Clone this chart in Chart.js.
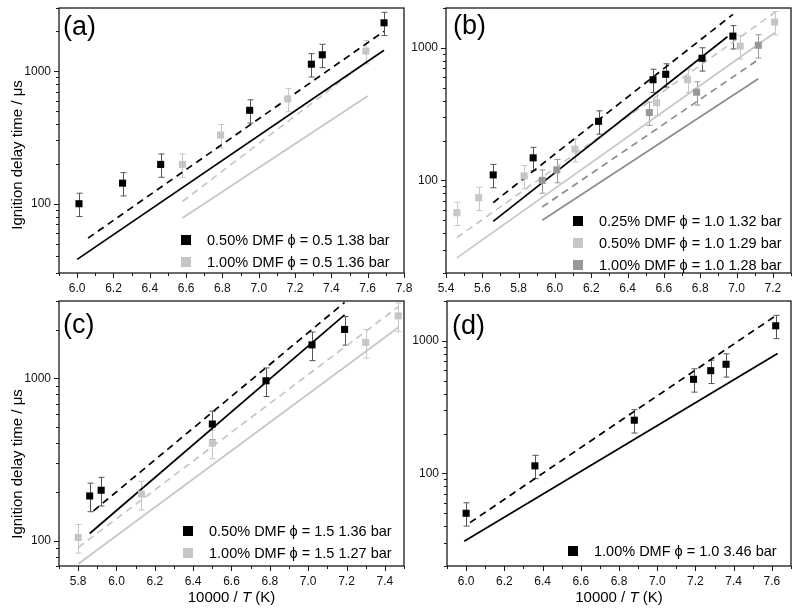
<!DOCTYPE html>
<html>
<head>
<meta charset="utf-8">
<script src="https://cdn.jsdelivr.net/npm/chart.js@4.4.1/dist/chart.umd.min.js"></script>
<style>
  body { margin: 0; background: #fff; width: 800px; height: 612px; position: relative; overflow: hidden; }
  canvas { position: absolute; }
</style>
</head>
<body>
<canvas id="pa" width="415" height="300" style="left:0;top:0;width:415px;height:300px"></canvas>
<canvas id="pb" width="395" height="300" style="left:405px;top:0;width:395px;height:300px"></canvas>
<canvas id="pc" width="415" height="322" style="left:0;top:290px;width:415px;height:322px"></canvas>
<canvas id="pd" width="395" height="322" style="left:405px;top:290px;width:395px;height:322px"></canvas>
<script>
// ---- panel (a) : phi = 0.5
const aBlackX = [6.01, 6.25, 6.46, 6.95, 7.29, 7.35, 7.69];
const aBlackY = [100, 143, 198, 507, 1130, 1330, 2320];
const aGrayX = [6.58, 6.79, 7.16, 7.59];
const aGrayY = [198, 330, 618, 1420];
const aBlackDashX = [6.06, 7.69], aBlackDashY = [55, 2000];
const aBlackSolidX = [6.0, 7.69], aBlackSolidY = [38, 1440];
const aGrayDashX = [6.58, 7.6], aGrayDashY = [104, 1200];
const aGraySolidX = [6.58, 7.6], aGraySolidY = [78, 650];

// ---- panel (b) : phi = 1.0
const bBlackX = [5.66, 5.88, 6.24, 6.54, 6.61, 6.81, 6.98];
const bBlackY = [110, 148, 279, 575, 632, 835, 1227];
const bLightX = [5.46, 5.58, 5.83, 6.11, 6.56, 6.73, 7.02, 7.21];
const bLightY = [57, 74, 108, 172, 386, 575, 1030, 1566];
const bMidX = [5.93, 6.01, 6.52, 6.78, 7.12];
const bMidY = [100, 120, 325, 463, 1047];
const bBlackDashX = [5.66, 6.98], bBlackDashY = [68, 1790];
const bBlackSolidX = [5.66, 6.95], bBlackSolidY = [49, 1213];
const bLightDashX = [5.46, 7.21], bLightDashY = [37, 1845];
const bLightSolidX = [5.46, 7.21], bLightSolidY = [26, 1300];
const bMidDashX = [5.93, 7.12], bMidDashY = [63, 815];
const bMidSolidX = [5.93, 7.12], bMidSolidY = [50, 585];

// ---- panel (c) : phi = 1.5
const cBlackX = [5.86, 5.92, 6.5, 6.78, 7.02, 7.19];
const cBlackY = [189, 205, 524, 968, 1610, 2005];
const cLightX = [5.8, 6.13, 6.5, 7.3, 7.47];
const cLightY = [105, 194, 400, 1667, 2430];
const cBlackDashX = [5.88, 7.19], cBlackDashY = [153, 2940];
const cBlackSolidX = [5.86, 7.19], cBlackSolidY = [111, 2466];
const cLightDashX = [5.8, 7.47], cLightDashY = [91, 2760];
const cLightSolidX = [5.8, 7.47], cLightSolidY = [72, 2060];

// ---- panel (d) : 3.46 bar
const dBlackX = [6.0, 6.36, 6.88, 7.19, 7.28, 7.36, 7.62];
const dBlackY = [50, 114, 252, 513, 596, 666, 1300];
const dDashX = [6.02, 7.63], dDashY = [42.5, 1584];
const dSolidX = [5.99, 7.63], dSolidY = [30.7, 802];

// legends
const aLabels = ['0.50% DMF \u03d5 = 0.5 1.38 bar', '1.00% DMF \u03d5 = 0.5 1.36 bar'];
const bLabels = ['0.25% DMF \u03d5 = 1.0 1.32 bar', '0.50% DMF \u03d5 = 1.0 1.29 bar', '1.00% DMF \u03d5 = 1.0 1.28 bar'];
const cLabels = ['0.50% DMF \u03d5 = 1.5 1.36 bar', '1.00% DMF \u03d5 = 1.5 1.27 bar'];
const dLabels = ['1.00% DMF \u03d5 = 1.0 3.46 bar'];

// axes
const aXTicks = [6.0, 6.2, 6.4, 6.6, 6.8, 7.0, 7.2, 7.4, 7.6, 7.8];
const bXTicks = [5.4, 5.6, 5.8, 6.0, 6.2, 6.4, 6.6, 6.8, 7.0, 7.2];
const cXTicks = [5.8, 6.0, 6.2, 6.4, 6.6, 6.8, 7.0, 7.2, 7.4];
const dXTicks = [6.0, 6.2, 6.4, 6.6, 6.8, 7.0, 7.2, 7.4, 7.6];
const yTicks = [100, 1000];
const yTitle = 'Ignition delay time / \u03bcs';
const xTitleParts = [['10000 / ', false], ['T', true], [' (K)', false]];
const errFrac = 0.2; // error bars are +-20 %

const FONT = '"Liberation Sans", Arial, Helvetica, sans-serif';
const BLACK = '#000000', LIGHT = '#c6c6c6', MID = '#999999';

function pts(xs, ys) {
    return xs.map((x, i) => ({ x: x, y: ys[i] }));
}

function scatterSet(label, xs, ys, color, barColor) {
    return {
        label: label,
        data: pts(xs, ys),
        showLine: false,
        pointStyle: 'rect',
        pointRadius: 5,
        pointHoverRadius: 5,
        backgroundColor: color,
        borderColor: color,
        borderWidth: 0,
        errColor: barColor,
        inLegend: true,
        order: 0
    };
}

function lineSet(xs, ys, color, dashed) {
    return {
        data: pts(xs, ys),
        showLine: true,
        pointRadius: 0,
        borderColor: color,
        borderWidth: 1.7,
        borderDash: dashed ? [7, 5] : [],
        order: 1
    };
}

const decor = {
    id: 'decor',
    beforeDatasetsDraw(chart) {
        const { ctx, scales: { x, y } } = chart;
        ctx.save();
        ctx.lineWidth = 1;
        chart.data.datasets.forEach(ds => {
            if (!ds.errColor) return;
            ctx.strokeStyle = ds.errColor;
            ds.data.forEach(p => {
                const px = Math.round(x.getPixelForValue(p.x)) + 0.5;
                const y1 = y.getPixelForValue(p.y * (1 + errFrac));
                const y2 = y.getPixelForValue(p.y * (1 - errFrac));
                ctx.beginPath();
                ctx.moveTo(px, y1); ctx.lineTo(px, y2);
                ctx.moveTo(px - 3, y1); ctx.lineTo(px + 3, y1);
                ctx.moveTo(px - 3, y2); ctx.lineTo(px + 3, y2);
                ctx.stroke();
            });
        });
        ctx.restore();
    },
    afterDraw(chart, args, o) {
        const { ctx, chartArea: a, scales: { x, y } } = chart;
        ctx.save();
        // frame
        ctx.strokeStyle = '#1a1a1a';
        ctx.lineWidth = 1.3;
        ctx.strokeRect(a.left, a.top, a.right - a.left, a.bottom - a.top);
        // x ticks, major 0.2 minor 0.1
        ctx.lineWidth = 1;
        ctx.beginPath();
        for (let k = Math.ceil(x.min * 10 - 1e-6); k <= Math.floor(x.max * 10 + 1e-6); k++) {
            const px = Math.round(x.getPixelForValue(k / 10)) + 0.5;
            const len = k % 2 === 0 ? 5 : 3;
            ctx.moveTo(px, a.bottom);
            ctx.lineTo(px, a.bottom + len);
        }
        // y ticks, log
        for (let d = Math.floor(Math.log10(y.min)); d <= Math.ceil(Math.log10(y.max)); d++) {
            for (let m = 1; m <= 9; m++) {
                const v = m * Math.pow(10, d);
                if (v < y.min * 0.999 || v > y.max * 1.001) continue;
                const py = Math.round(y.getPixelForValue(v)) + 0.5;
                ctx.moveTo(a.left, py);
                ctx.lineTo(a.left - (m === 1 ? 5 : 3), py);
            }
        }
        ctx.stroke();
        // panel letter
        ctx.fillStyle = '#000';
        ctx.textBaseline = 'middle';
        ctx.textAlign = 'left';
        ctx.font = '27px ' + FONT;
        ctx.fillText(o.letter, a.left + o.letterDx, a.top + o.letterDy);
        // legend
        ctx.font = '14.5px ' + FONT;
        let row = 0;
        chart.data.datasets.forEach(ds => {
            if (!ds.inLegend) return;
            const cy = a.top + o.legY + row * 22;
            const cx = a.left + o.legX;
            ctx.fillStyle = ds.backgroundColor;
            ctx.fillRect(cx - 5, cy - 5, 10, 10);
            ctx.fillStyle = '#000';
            ctx.fillText(ds.label, cx + 21, cy + 1);
            row++;
        });
        // y title
        if (o.yTitle) {
            ctx.save();
            ctx.translate(o.yTitle.x, o.yTitle.y);
            ctx.rotate(-Math.PI / 2);
            ctx.textAlign = 'center';
            ctx.font = '15px ' + FONT;
            ctx.fillStyle = '#000';
            ctx.fillText(yTitle, 0, 0);
            ctx.restore();
        }
        // x title with italic T
        if (o.xTitle) {
            const fonts = xTitleParts.map(p => (p[1] ? 'italic ' : '') + '15px ' + FONT);
            let w = 0;
            xTitleParts.forEach((p, i) => { ctx.font = fonts[i]; w += ctx.measureText(p[0]).width; });
            let cx = o.xTitle.x - w / 2;
            ctx.fillStyle = '#000';
            xTitleParts.forEach((p, i) => {
                ctx.font = fonts[i];
                ctx.fillText(p[0], cx, o.xTitle.y);
                cx += ctx.measureText(p[0]).width;
            });
        }
        ctx.restore();
    }
};

function makePanel(id, datasets, p) {
    const config = {
        type: 'scatter',
        data: { datasets: datasets },
        options: {
            responsive: false,
            animation: false,
            devicePixelRatio: 1,
            layout: { padding: { top: p.padTop, right: p.padRight, left: 0, bottom: 0 } },
            plugins: {
                legend: { display: false },
                tooltip: { enabled: false },
                decor: p.decor
            },
            scales: {
                x: {
                    type: 'linear',
                    min: p.xMin,
                    max: p.xMax,
                    grid: { display: false, drawTicks: true, tickLength: 5 },
                    border: { display: false },
                    ticks: {
                        autoSkip: false,
                        maxRotation: 0,
                        padding: 3,
                        color: '#111',
                        font: { family: FONT, size: 12 },
                        callback: v => Number(v).toFixed(1)
                    },
                    afterBuildTicks: s => { s.ticks = p.xTicks.map(v => ({ value: v })); },
                    afterFit: s => { s.height = p.xHeight; s.paddingLeft = 0; s.paddingRight = 0; }
                },
                y: {
                    type: 'logarithmic',
                    min: p.yMin,
                    max: p.yMax,
                    grid: { display: false, drawTicks: true, tickLength: 5 },
                    border: { display: false },
                    ticks: {
                        autoSkip: false,
                        padding: 3,
                        color: '#111',
                        font: { family: FONT, size: 12 },
                        callback: v => String(v)
                    },
                    afterBuildTicks: s => { s.ticks = yTicks.map(v => ({ value: v })); },
                    afterFit: s => { s.width = p.yWidth; s.paddingTop = 0; s.paddingBottom = 0; }
                }
            }
        },
        plugins: [decor]
    };
    return new Chart(document.getElementById(id), config);
}

makePanel('pa', [
    scatterSet(aLabels[0], aBlackX, aBlackY, BLACK, '#555555'),
    scatterSet(aLabels[1], aGrayX, aGrayY, LIGHT, '#c6c6c6'),
    lineSet(aBlackDashX, aBlackDashY, BLACK, true),
    lineSet(aBlackSolidX, aBlackSolidY, BLACK, false),
    lineSet(aGrayDashX, aGrayDashY, LIGHT, true),
    lineSet(aGraySolidX, aGraySolidY, LIGHT, false)
], {
    xMin: 5.9, xMax: 7.8, yMin: 30, yMax: 3000, xTicks: aXTicks,
    padTop: 8, padRight: 11, yWidth: 59, xHeight: 27,
    decor: { letter: '(a)', letterDx: 4, letterDy: 20, legX: 127, legY: 232, yTitle: { x: 18, y: 155 } }
});

makePanel('pb', [
    scatterSet(bLabels[0], bBlackX, bBlackY, BLACK, '#555555'),
    scatterSet(bLabels[1], bLightX, bLightY, LIGHT, '#c6c6c6'),
    scatterSet(bLabels[2], bMidX, bMidY, MID, '#999999'),
    lineSet(bBlackDashX, bBlackDashY, BLACK, true),
    lineSet(bBlackSolidX, bBlackSolidY, BLACK, false),
    lineSet(bLightDashX, bLightDashY, LIGHT, true),
    lineSet(bLightSolidX, bLightSolidY, LIGHT, false),
    lineSet(bMidDashX, bMidDashY, '#8c8c8c', true),
    lineSet(bMidSolidX, bMidSolidY, '#8c8c8c', false)
], {
    xMin: 5.4, xMax: 7.3, yMin: 20, yMax: 2000, xTicks: bXTicks,
    padTop: 8, padRight: 9, yWidth: 41, xHeight: 27,
    decor: { letter: '(b)', letterDx: 7, letterDy: 19, legX: 132, legY: 213 }
});

makePanel('pc', [
    scatterSet(cLabels[0], cBlackX, cBlackY, BLACK, '#555555'),
    scatterSet(cLabels[1], cLightX, cLightY, LIGHT, '#c6c6c6'),
    lineSet(cBlackDashX, cBlackDashY, BLACK, true),
    lineSet(cBlackSolidX, cBlackSolidY, BLACK, false),
    lineSet(cLightDashX, cLightDashY, LIGHT, true),
    lineSet(cLightSolidX, cLightSolidY, LIGHT, false)
], {
    xMin: 5.7, xMax: 7.5, yMin: 70, yMax: 3000, xTicks: cXTicks,
    padTop: 11, padRight: 11, yWidth: 59, xHeight: 46,
    decor: { letter: '(c)', letterDx: 4, letterDy: 25, legX: 129, legY: 230, yTitle: { x: 18, y: 174 }, xTitle: { x: 231.5, y: 308 } }
});

makePanel('pd', [
    scatterSet(dLabels[0], dBlackX, dBlackY, BLACK, '#555555'),
    lineSet(dDashX, dDashY, BLACK, true),
    lineSet(dSolidX, dSolidY, BLACK, false)
], {
    xMin: 5.9, xMax: 7.7, yMin: 20, yMax: 2000, xTicks: dXTicks,
    padTop: 11, padRight: 9, yWidth: 42, xHeight: 46,
    decor: { letter: '(d)', letterDx: 5, letterDy: 26, legX: 126, legY: 250, xTitle: { x: 214, y: 308 } }
});
</script>
</body>
</html>
